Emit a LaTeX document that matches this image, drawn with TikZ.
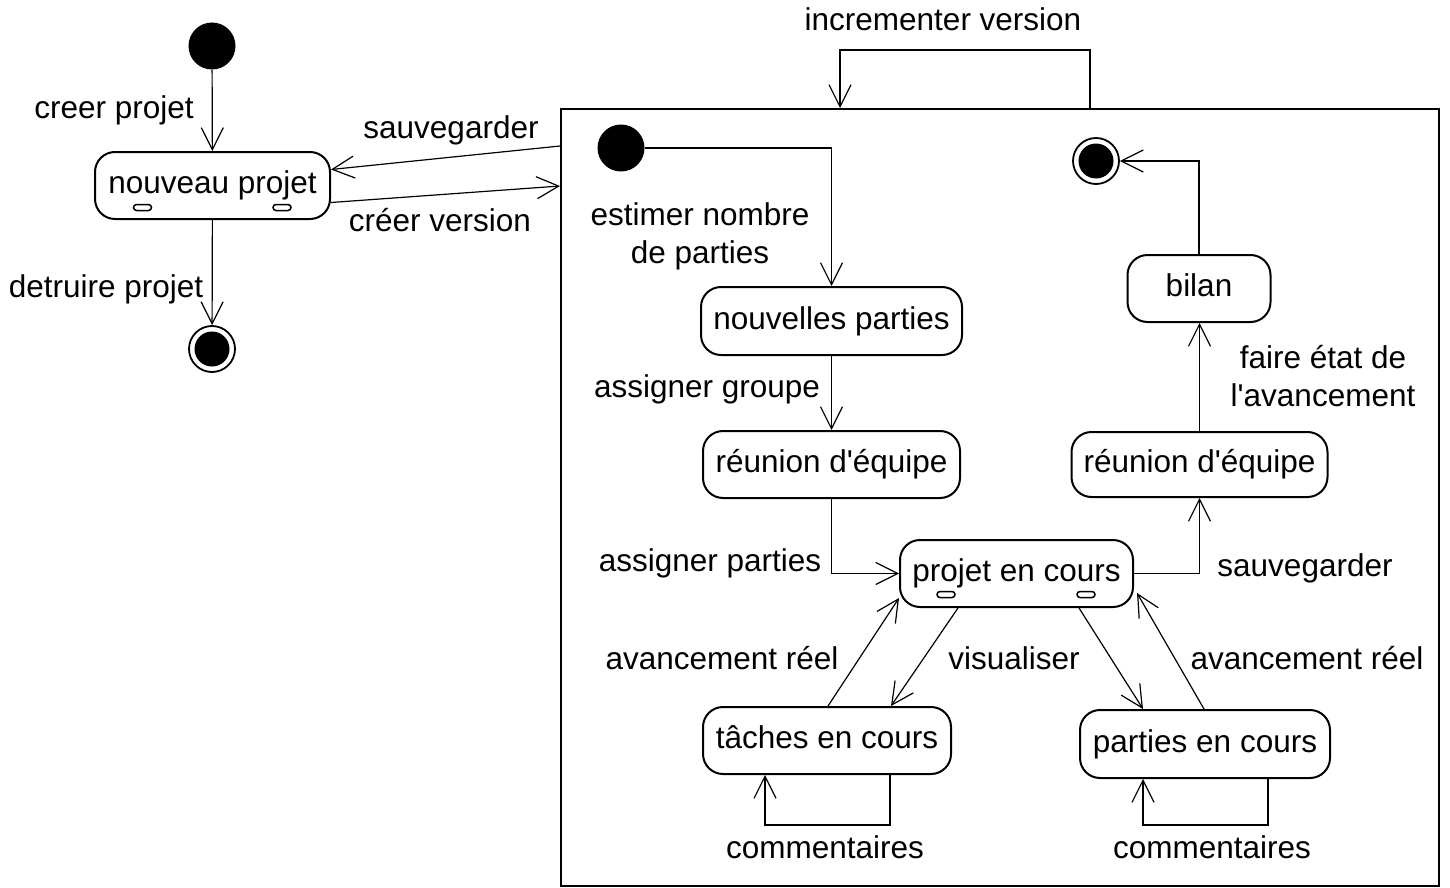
\documentclass[tikz,border=0pt]{standalone}
\usepackage{fontspec}
\setmainfont{Liberation Sans}[Ligatures=TeXOff]
\usetikzlibrary{arrows.meta,calc}
\begin{document}
\begin{tikzpicture}[x=1pt,y=-1pt,
  every node/.style={font=\fontsize{31.5}{38}\selectfont},
  statebox/.style={draw, line width=2pt, rounded corners=20pt, inner sep=0pt, text height=23pt, text depth=7pt},
  lbl/.style={inner sep=0pt, text height=23pt, text depth=7pt},
  lbl2/.style={inner sep=0pt, align=center},
  conn/.style={line width=1.2pt, -{Straight Barb[length=22pt,width=22pt,line width=1.2pt]}},
  initst/.style={circle, fill=black, inner sep=0pt, minimum size=47pt},
  finst/.style={circle, draw, line width=1.8pt, inner sep=0pt, minimum size=46pt, path picture={\fill[black] (path picture bounding box.center) circle (17.5pt);}},
  icon/.style={draw, line width=1.5pt, rounded corners=3pt, inner sep=0pt, minimum width=18pt, minimum height=6pt}
]
\useasboundingbox (0,0) rectangle (1450,888);

% frame (composite state)
\node[draw, line width=2pt, anchor=north west, inner sep=0pt, minimum width=878pt, minimum height=777pt] (ver) at (560,108) {};

% left part
\node[initst] (init1) at (212,46) {};
\node[statebox, minimum width=235pt, minimum height=67pt, text height=26pt, text depth=10pt] (np) at (212.5,185.5) {nouveau projet};
\node[icon] (npi1) at (142.5,207.5) {};
\node[icon] (npi2) at (282,207.5) {};
\node[finst] (fin1) at (212,349) {};

% inner part
\node[initst] (init2) at (621,148) {};
\node[finst] (fin2) at (1096,161) {};
\node[statebox, minimum width=261pt, minimum height=68pt] (npart) at (831.5,321) {nouvelles parties};
\node[statebox, minimum width=257pt, minimum height=67pt] (reu1) at (831.5,464.5) {réunion d'équipe};
\node[statebox, minimum width=233pt, minimum height=67pt, text height=26pt, text depth=10pt] (pec) at (1016.5,573.5) {projet en cours};
\node[icon] (peci1) at (946,594.5) {};
\node[icon] (peci2) at (1086,594.5) {};
\node[statebox, minimum width=248pt, minimum height=67pt] (taches) at (827,740.5) {tâches en cours};
\node[statebox, minimum width=250pt, minimum height=68pt] (parties) at (1205,744) {parties en cours};
\node[statebox, minimum width=256pt, minimum height=65pt] (reu2) at (1199.5,464.5) {réunion d'équipe};
\node[statebox, minimum width=143pt, minimum height=67pt] (bilan) at (1199,288.5) {bilan};

% connectors, left
\draw[conn] (init1) -- (np);
\draw[conn] (np) -- (fin1);
\coordinate (svA) at ($(ver.north west)+(0,38)$);
\coordinate (cvB) at ($(ver.north west)+(0,78)$);
\draw[conn] (svA) -- ($(np.east)+(0,-16)$);
\draw[conn] ($(np.east)+(0,17)$) -- (cvB);
\draw[conn] ($(ver.north west)+(530,0)$) -- ++(0,-58) -| ($(ver.north west)+(280,0)$);

% connectors, inner
\draw[conn] (init2.east) -| (npart.north);
\draw[conn] (npart) -- (reu1);
\draw[conn] (reu1.south) |- (pec.west);
\draw[conn] (pec.east) -| (reu2.south);
\draw[conn] (reu2.north) -- (reu2.north |- bilan.south);
\draw[conn] (bilan.north) |- (fin2.east);
\draw[conn] ($(taches.north)+(1,0)$) -- ($(pec.south west)+(0,-10)$);
\draw[conn] ($(pec.south west)+(59,0)$) -- ($(taches.north)+(64,0)$);
\draw[conn] ($(pec.south east)+(-55,0)$) -- ($(parties.north)+(-62,0)$);
\draw[conn] ($(parties.north)+(-1,0)$) -- ($(pec.south east)+(3,-15)$);
\draw[conn] ($(taches.south)+(63,0)$) -- ++(0,50) -| ($(taches.south)+(-62,0)$);
\draw[conn] ($(parties.south)+(63,0)$) -- ++(0,46) -| ($(parties.south)+(-62,0)$);

% labels
\node[lbl] (l1) at (114,110) {creer projet};
\node[lbl] (l2) at (106,289) {detruire projet};
\node[lbl] (l3) at (451,131) {sauvegarder};
\node[lbl] (l4) at (440,223) {créer version};
\node[lbl] (l5) at (943,23) {incrementer version};
\node[lbl2] (l6) at (700,236) {estimer nombre\\de parties};
\node[lbl] (l7) at (707,389) {assigner groupe};
\node[lbl] (l8) at (710,563) {assigner parties};
\node[lbl2] (l9) at (1323,376) {faire état de\\l'avancement};
\node[lbl] (l10) at (1305,568) {sauvegarder};
\node[lbl] (l11) at (722,661) {avancement réel};
\node[lbl] (l12) at (1014,661) {visualiser};
\node[lbl] (l13) at (1307,661) {avancement réel};
\node[lbl] (l14) at (825,850) {commentaires};
\node[lbl] (l15) at (1212,850) {commentaires};
\end{tikzpicture}
\end{document}
